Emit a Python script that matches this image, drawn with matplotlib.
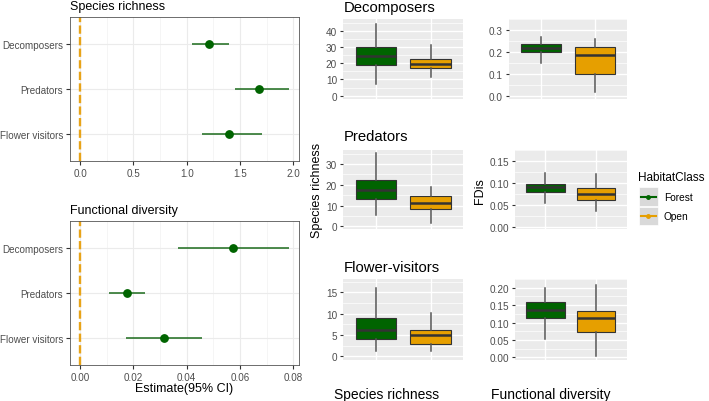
import matplotlib
matplotlib.use("Agg")
import matplotlib.pyplot as plt
from matplotlib.patches import Rectangle
from matplotlib.lines import Line2D

plt.rcParams['font.family'] = ['Liberation Sans', 'DejaVu Sans']

W, H = 709, 402

# effect sizes (left panels), order: Decomposers, Predators, Flower visitors
groups = ["Decomposers", "Predators", "Flower visitors"]
sr_est = [1.21, 1.675, 1.40]
sr_lo = [1.05, 1.45, 1.14]
sr_hi = [1.40, 1.955, 1.71]
fd_est = [0.0575, 0.0175, 0.0315]
fd_lo = [0.0369, 0.0108, 0.0171]
fd_hi = [0.0784, 0.0245, 0.0459]

# boxplots: (lower whisker, Q1, median, Q3, upper whisker)
habitats = ["Forest", "Open"]
hab_colors = ["#006400", "#E69F00"]
box_titles = ["Decomposers", "Predators", "Flower-visitors"]
sr_forest = [[7.3, 19.0, 24.6, 30.2, 44.3],
             [5.4, 13.2, 17.5, 22.3, 35.2],
             [1.2, 4.0, 6.2, 9.05, 16.0]]
sr_open = [[11.3, 17.4, 19.6, 23.0, 31.6],
           [1.4, 8.1, 11.2, 14.4, 19.0],
           [1.2, 3.0, 5.0, 6.1, 10.1]]
fd_forest = [[0.152, 0.200, 0.218, 0.236, 0.267],
             [0.054, 0.078, 0.090, 0.097, 0.123],
             [0.052, 0.112, 0.136, 0.160, 0.198]]
fd_open = [[0.020, 0.101, 0.187, 0.221, 0.257],
           [0.035, 0.061, 0.075, 0.088, 0.119],
           [0.003, 0.073, 0.114, 0.133, 0.207]]
sr_ticks = [[0, 10, 20, 30, 40], [0, 10, 20, 30], [0, 5, 10, 15]]
fd_ticks = [[0.0, 0.1, 0.2, 0.3], [0.0, 0.05, 0.10, 0.15], [0.0, 0.05, 0.10, 0.15, 0.20]]
sr_fmt = ["{:.0f}", "{:.0f}", "{:.0f}"]
fd_fmt = ["{:.1f}", "{:.2f}", "{:.2f}"]
sr_lims = [(-2.1, 47.5), (-1.3, 36.9), (-0.75, 18.15)]
fd_lims = [(-0.013, 0.303), (-0.0054, 0.152), (-0.0063, 0.224)]

fig = plt.figure(figsize=(W / 100, H / 100), dpi=100)


def px_axes(l, t, r, b):
    return fig.add_axes([l / W, 1 - b / H, (r - l) / W, (b - t) / H])


# overlay for free text / legend
ov = fig.add_axes([0, 0, 1, 1])
ov.set_xlim(0, W)
ov.set_ylim(H, 0)
ov.axis('off')


def forest(ax, est, lo, hi, xlim, xticks, fmt):
    y = [3, 2, 1]
    ax.hlines(y, lo, hi, color='#1c6b1c', lw=1.1, zorder=3)
    ax.plot(est, y, 'o', color='#006400', ms=5.3, zorder=4)
    ax.axvline(0, color='#E8A317', lw=1.7, ls=(0, (3.5, 1.4)), zorder=2)
    ax.set_xlim(xlim)
    ax.set_ylim(0.4, 3.6)
    ax.set_yticks(y)
    ax.set_yticklabels(groups)
    ax.set_xticks(xticks)
    ax.set_xticklabels([fmt.format(v) for v in xticks])
    step = xticks[1] - xticks[0]
    ax.set_xticks([v + step / 2 for v in xticks[:-1]], minor=True)
    ax.grid(which='major', color='#EBEBEB', lw=0.8)
    ax.grid(which='minor', axis='x', color='#F2F2F2', lw=0.5)
    ax.tick_params(which='minor', length=0)
    ax.tick_params(length=3, color='#333333', labelsize=7.1, labelcolor='#4D4D4D', pad=2)
    for s in ax.spines.values():
        s.set_color('#555555')
        s.set_linewidth(0.6)
    ax.set_axisbelow(True)


ax1 = px_axes(70, 18, 299.3, 162)
forest(ax1, sr_est, sr_lo, sr_hi, (-0.094, 2.056), [0.0, 0.5, 1.0, 1.5, 2.0], "{:.1f}")
ax2 = px_axes(70, 222, 299.3, 366)
forest(ax2, fd_est, fd_lo, fd_hi, (-0.00375, 0.0822), [0.0, 0.02, 0.04, 0.06, 0.08], "{:.2f}")

ov.text(70, 10, "Species richness", fontsize=9, va='baseline')
ov.text(70, 214, "Functional diversity", fontsize=9, va='baseline')
ov.text(184.5, 392, "Estimate(95% CI)", fontsize=9, va='baseline', ha='center')


def boxes(ax, fs, os_, ylim, yticks, fmt):
    stats = []
    for lab, s in zip(habitats, [fs, os_]):
        stats.append(dict(label=lab, whislo=s[0], q1=s[1], med=s[2], q3=s[3],
                          whishi=s[4], fliers=[]))
    bp = ax.bxp(stats, positions=[1, 2], widths=0.75, patch_artist=True, showcaps=False,
                boxprops=dict(edgecolor='#333333', lw=0.8),
                whiskerprops=dict(color='#555555', lw=1.1),
                medianprops=dict(color='#333333', lw=1.8))
    for patch, c in zip(bp['boxes'], hab_colors):
        patch.set_facecolor(c)
    ax.set_facecolor('#EBEBEB')
    ax.set_xlim(0.4, 2.6)
    ax.set_ylim(ylim)
    ax.set_xticks([1, 2])
    ax.set_xticklabels([])
    ax.tick_params(axis='x', length=0)
    ax.set_yticks(yticks)
    ax.set_yticklabels([fmt.format(v) for v in yticks])
    step = yticks[1] - yticks[0]
    ax.set_yticks([v + step / 2 for v in yticks], minor=True)
    ax.tick_params(which='minor', length=0)
    ax.tick_params(axis='y', length=2.5, color='#333333', labelsize=7.2,
                   labelcolor='#4D4D4D', pad=2)
    ax.grid(which='major', color='white', lw=1.0)
    ax.grid(which='minor', axis='y', color='white', lw=0.5)
    for s in ax.spines.values():
        s.set_visible(False)
    ax.set_axisbelow(True)


rows = [(20, 100), (150.7, 230), (280, 360.5)]
fd_left = [509, 515, 515]
baselines = [12, 141, 272.3]
for i in range(3):
    t, b = rows[i]
    a = px_axes(343.3, t, 463.3, b)
    boxes(a, sr_forest[i], sr_open[i], sr_lims[i], sr_ticks[i], sr_fmt[i])
    a2 = px_axes(fd_left[i], t, 626.7, b)
    boxes(a2, fd_forest[i], fd_open[i], fd_lims[i], fd_ticks[i], fd_fmt[i])
    ov.text(344, baselines[i], box_titles[i], fontsize=10.7, va='baseline')

ov.text(316.7, 190, "Species richness", fontsize=9, rotation=90, ha='center', va='center')
ov.text(480, 191, "FDis", fontsize=9, rotation=90, ha='center', va='center')
ov.text(387, 399, "Species richness", fontsize=10, ha='center', va='baseline')
ov.text(551, 399, "Functional diversity", fontsize=10, ha='center', va='baseline')

# legend
ov.text(638, 181, "HabitatClass", fontsize=8.5, va='baseline')
key_tops = [188.3, 207.5]
for k, (lab, c) in enumerate(zip(habitats, hab_colors)):
    kt = key_tops[k]
    ov.add_patch(Rectangle((639, kt), 18.7, 18.7, facecolor='#D9D9D9', edgecolor='white', lw=0.5))
    ov.add_line(Line2D([640.7, 656], [kt + 9.35, kt + 9.35], color=c, lw=1.5))
    ov.plot([648.3], [kt + 9.35], 'o', color=c, ms=2.5)
    ov.text(664, kt + 9.6, lab, fontsize=7.3, va='center')

fig.savefig("out.png", dpi=100)
